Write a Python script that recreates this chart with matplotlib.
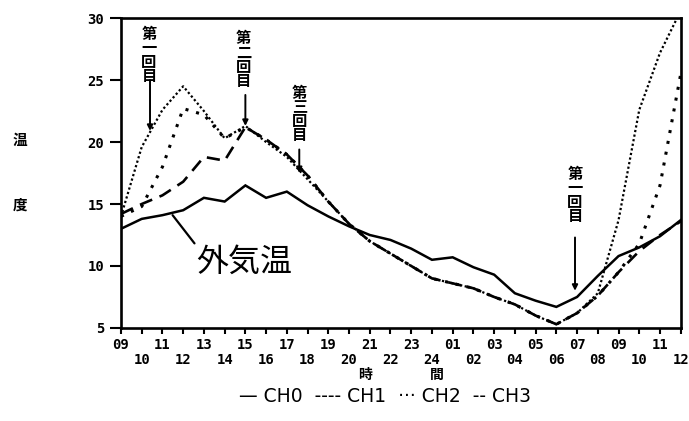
import matplotlib
matplotlib.use("Agg")
import matplotlib.pyplot as plt

# hourly readings, 09:00 day 1 -> 12:00 day 2
hours = list(range(28))
hour_labels = ["09", "10", "11", "12", "13", "14", "15", "16", "17", "18",
               "19", "20", "21", "22", "23", "24", "01", "02", "03", "04",
               "05", "06", "07", "08", "09", "10", "11", "12"]

# CH0 = outside air temperature
ch0 = [13.0, 13.8, 14.1, 14.5, 15.5, 15.2, 16.5, 15.5, 16.0, 14.9,
       14.0, 13.2, 12.5, 12.1, 11.4, 10.5, 10.7, 9.9, 9.3, 7.8,
       7.2, 6.7, 7.5, 9.2, 10.8, 11.5, 12.4, 13.7]
ch1 = [14.0, 14.8, 18.0, 22.7, 22.2, 20.3, 21.2, 20.2, 19.0, 17.3,
       15.2, 13.4, 12.0, 11.0, 10.0, 9.0, 8.6, 8.2, 7.5, 6.9,
       6.0, 5.3, 6.2, 7.6, 9.5, 11.8, 16.5, 25.5]
ch2 = [14.0, 19.6, 22.6, 24.5, 22.5, 20.3, 21.3, 20.0, 18.8, 17.0,
       15.2, 13.4, 12.0, 11.0, 10.0, 9.0, 8.6, 8.2, 7.5, 6.9,
       6.0, 5.3, 6.2, 7.8, 13.7, 22.6, 27.2, 30.6]
ch3 = [14.2, 15.0, 15.7, 16.8, 18.8, 18.5, 21.2, 20.2, 19.0, 17.3,
       15.2, 13.4, 12.0, 11.0, 10.0, 9.0, 8.6, 8.2, 7.5, 6.9,
       6.0, 5.3, 6.2, 7.6, 9.5, 11.2, 12.5, 13.6]

yticks = [5, 10, 15, 20, 25, 30]

jp = ["Noto Sans CJK JP", "DejaVu Sans"]
mono = "DejaVu Sans Mono"

fig = plt.figure(figsize=(6.89, 4.21), dpi=100)
ax = fig.add_axes([0.1756, 0.221, 0.8124, 0.736])

ax.plot(hours, ch0, color="k", lw=1.8, solid_joinstyle="miter")
ax.plot(hours, ch1, color="k", lw=2.2, linestyle=(0, (1.0, 2.6)))
ax.plot(hours, ch2, color="k", lw=1.6, linestyle=(0, (1.0, 1.1)))
ax.plot(hours, ch3, color="k", lw=1.9, linestyle=(0, (5, 3)))

ax.set_xlim(0, 27)
ax.set_ylim(5, 30)

# two-row hour labels
xlabels = [lab if i % 2 == 0 else "\n" + lab for i, lab in enumerate(hour_labels)]
ax.set_xticks(hours)
ax.set_xticklabels(xlabels, fontsize=10, fontweight="bold", family=mono,
                   linespacing=1.1)
ax.set_yticks(yticks)
ax.set_yticklabels([str(v) for v in yticks], fontsize=10, fontweight="bold",
                   family=mono)
ax.tick_params(axis="x", direction="out", length=4.5, width=1.5, pad=3)
ax.tick_params(axis="y", direction="out", length=8, width=1.5, pad=4)
for s in ax.spines.values():
    s.set_linewidth(1.9)

# ventilation marks
arrow = dict(arrowstyle="-|>", color="k", lw=1.4, mutation_scale=8,
             shrinkA=0, shrinkB=0)
marks = [("第\n一\n回\n目", 1.35, 29.4, (1.4, 20.9), 25.0),
         ("第\n二\n回\n目", 5.9, 29.0, (6.0, 21.3), 23.8),
         ("第\n三\n回\n目", 8.6, 24.6, (8.6, 17.5), 19.4),
         ("第\n一\n回\n目", 21.9, 18.1, (21.9, 8.0), 12.3)]
for txt, tx, ty, tip, tail in marks:
    ax.text(tx, ty, txt, ha="center", va="top", fontsize=11,
            fontweight="bold", family=jp, linespacing=0.85)
    ax.annotate("", xy=tip, xytext=(tip[0], tail), arrowprops=arrow)

ax.annotate("外気温", xy=(2.49, 14.1), xytext=(3.65, 11.6),
            ha="left", va="top", fontsize=23, family=jp,
            arrowprops=dict(arrowstyle="-", color="k", lw=1.6,
                            relpos=(0.0, 1.0), shrinkA=0, shrinkB=0))

# axis titles and legend line
fig.text(0.029, 0.667, "温", fontsize=10.5, fontweight="bold", family=jp,
         ha="center", va="center")
fig.text(0.029, 0.513, "度", fontsize=10.5, fontweight="bold", family=jp,
         ha="center", va="center")
fig.text(0.530, 0.110, "時", fontsize=10, fontweight="bold", family=jp,
         ha="center", va="center")
fig.text(0.634, 0.110, "間", fontsize=10, fontweight="bold", family=jp,
         ha="center", va="center")
fig.text(0.559, 0.058, "— CH0  ---- CH1  ··· CH2  -- CH3", fontsize=13.5,
         family="DejaVu Sans", ha="center", va="center")

fig.savefig("out.png", dpi=100)
